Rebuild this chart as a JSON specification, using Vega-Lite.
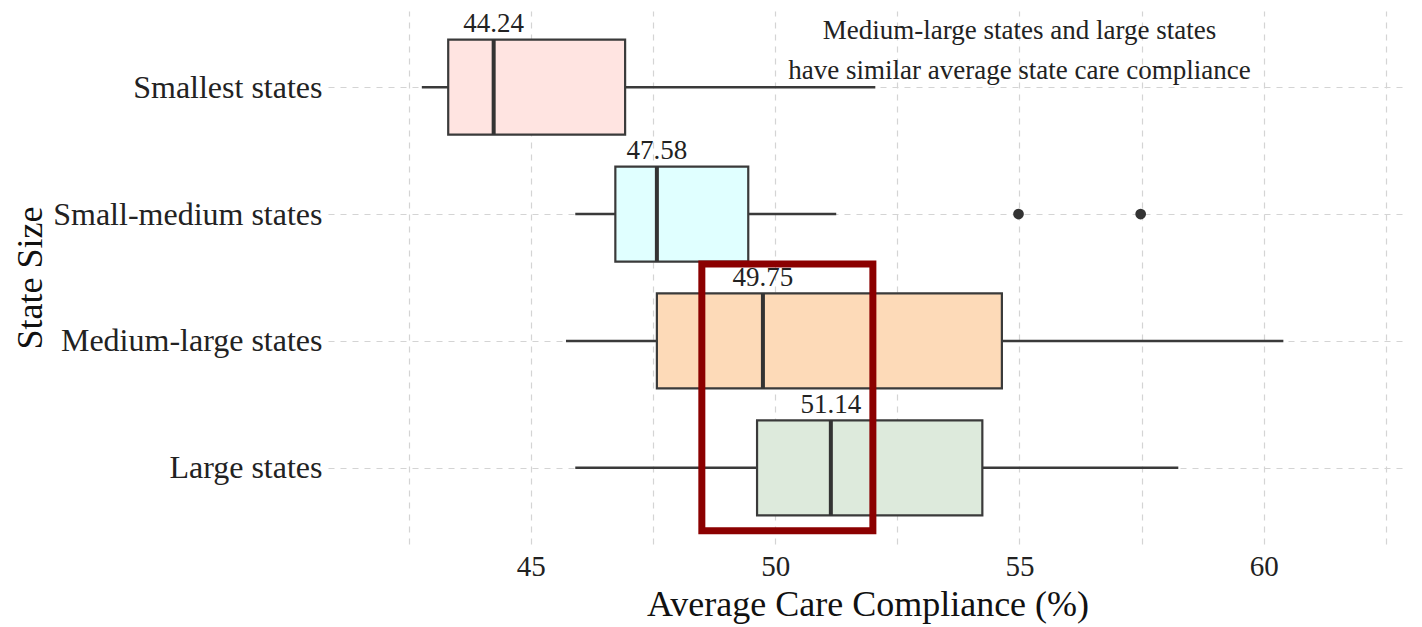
{
  "$schema": "https://vega.github.io/schema/vega-lite/v6.json",
  "width": 1079,
  "height": 533,
  "autosize": {"type": "none"},
  "padding": {"left": 328, "right": 15, "top": 11, "bottom": 83},
  "background": "white",
  "config": {
    "view": {"stroke": null},
    "font": "Liberation Serif",
    "axis": {"gridColor": "#d4d4d4", "gridDash": [6, 6], "gridWidth": 1.2, "domain": false, "ticks": false, "labelColor": "#222", "titleColor": "#111", "labelFont": "Liberation Serif", "titleFont": "Liberation Serif", "titleFontWeight": "normal", "labelLimit": 0}
  },
  "datasets": {
    "boxes": [
      {"order": 1, "size": "Smallest states", "lo": 42.77, "q1": 43.31, "med": 44.24, "q3": 46.93, "hi": 52.05},
      {"order": 2, "size": "Small-medium states", "lo": 45.91, "q1": 46.73, "med": 47.58, "q3": 49.45, "hi": 51.25},
      {"order": 3, "size": "Medium-large states", "lo": 45.72, "q1": 47.58, "med": 49.75, "q3": 54.64, "hi": 60.40},
      {"order": 4, "size": "Large states", "lo": 45.91, "q1": 49.63, "med": 51.14, "q3": 54.24, "hi": 58.25}
    ],
    "outliers": [
      {"order": 2, "size": "Small-medium states", "value": 54.98},
      {"order": 2, "size": "Small-medium states", "value": 57.48}
    ],
    "highlight": [
      {"xmin": 48.5, "xmax": 52.0, "ymin": 2.394, "ymax": 4.496}
    ],
    "note": [
      {"x": 55, "y": 0.557, "label": "Medium-large states and large states\nhave similar average state care compliance"}
    ]
  },
  "encoding": {
    "y": {
      "field": "order",
      "type": "quantitative",
      "scale": {"domain": [0.4, 4.6], "reverse": true, "nice": false, "zero": false, "padding": 0},
      "axis": {
        "values": [1, 2, 3, 4],
        "labelExpr": "['Smallest states','Small-medium states','Medium-large states','Large states'][datum.value - 1]",
        "labelFontSize": 32,
        "labelPadding": 6,
        "title": "State Size",
        "titleFontSize": 36,
        "titleX": -298,
        "titleBaseline": "middle"
      }
    }
  },
  "layer": [
    {
      "data": {"name": "boxes"},
      "mark": {"type": "rule", "color": "#3a3a3a", "strokeWidth": 2.5},
      "encoding": {
        "x": {
          "field": "lo",
          "type": "quantitative",
          "scale": {"domain": [40.85, 62.93], "nice": false, "zero": false, "padding": 0},
          "axis": {
            "values": [42.5, 45, 47.5, 50, 52.5, 55, 57.5, 60, 62.5],
            "labelExpr": "datum.value % 5 === 0 ? datum.label : ''",
            "labelFontSize": 29,
            "labelPadding": 8,
            "title": "Average Care Compliance (%)",
            "titleFontSize": 36,
            "titlePadding": 6
          }
        },
        "x2": {"field": "hi"}
      }
    },
    {
      "data": {"name": "boxes"},
      "mark": {"type": "bar", "size": 95, "stroke": "#3a3a3a", "strokeWidth": 2.2, "orient": "horizontal"},
      "encoding": {
        "x": {"field": "q1", "type": "quantitative"},
        "x2": {"field": "q3"},
        "fill": {
          "field": "size",
          "type": "nominal",
          "scale": {"domain": ["Smallest states", "Small-medium states", "Medium-large states", "Large states"], "range": ["#FFE4E1", "#E0FFFF", "#FDDAB8", "#DDEADC"]},
          "legend": null
        }
      }
    },
    {
      "data": {"name": "boxes"},
      "mark": {"type": "tick", "orient": "vertical", "size": 95, "thickness": 4, "color": "#333333", "opacity": 1},
      "encoding": {
        "x": {"field": "med", "type": "quantitative"}
      }
    },
    {
      "data": {"name": "outliers"},
      "mark": {"type": "point", "filled": true, "size": 115, "color": "#333333", "opacity": 1},
      "encoding": {
        "x": {"field": "value", "type": "quantitative"}
      }
    },
    {
      "data": {"name": "highlight"},
      "mark": {"type": "rect", "fill": null, "stroke": "#8B0000", "strokeWidth": 7},
      "encoding": {
        "x": {"field": "xmin", "type": "quantitative"},
        "x2": {"field": "xmax"},
        "y": {"field": "ymin", "type": "quantitative"},
        "y2": {"field": "ymax"}
      }
    },
    {
      "data": {"name": "boxes"},
      "mark": {"type": "text", "fontSize": 27, "baseline": "alphabetic", "align": "center", "dy": -55, "color": "#222"},
      "encoding": {
        "x": {"field": "med", "type": "quantitative"},
        "text": {"field": "med", "type": "quantitative", "format": ".2f"}
      }
    },
    {
      "data": {"name": "note"},
      "mark": {"type": "text", "fontSize": 27, "baseline": "middle", "align": "center", "lineBreak": "\n", "lineHeight": 40, "color": "#222"},
      "encoding": {
        "x": {"field": "x", "type": "quantitative"},
        "y": {"field": "y", "type": "quantitative"},
        "text": {"field": "label"}
      }
    }
  ]
}
